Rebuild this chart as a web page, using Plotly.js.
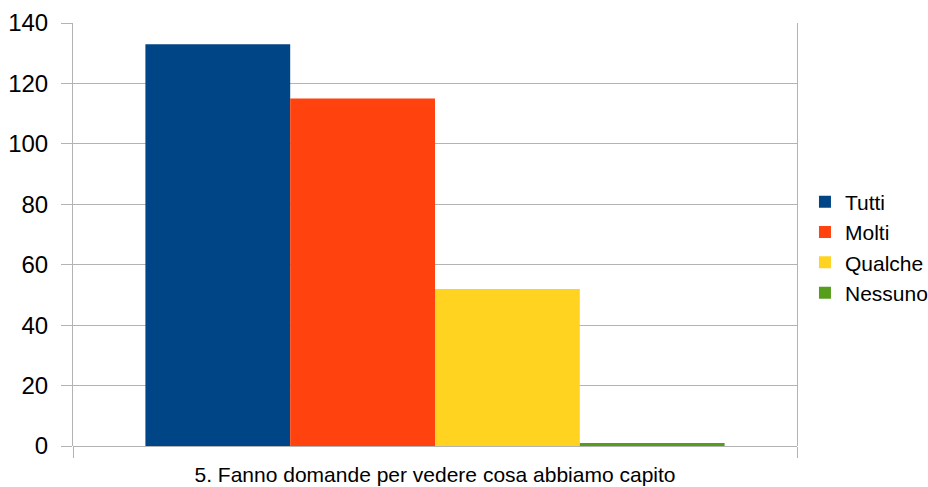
<!DOCTYPE html>
<html>
<head>
<meta charset="utf-8">
<script src="https://cdn.plot.ly/plotly-3.0.1.min.js"></script>
<style>html,body{margin:0;padding:0;background:#fff;}#chart{width:928px;height:487px;}</style>
</head>
<body>
<div id="chart"></div>
<script>
const categories = ["5. Fanno domande per vedere cosa abbiamo capito"];
const seriesNames = ["Tutti", "Molti", "Qualche", "Nessuno"];
const seriesValues = [[133], [115], [52], [1]];
const seriesColors = ["#004586", "#ff420e", "#ffd320", "#579d1c"];
const yTicks = [0, 20, 40, 60, 80, 100, 120, 140];

const traces = seriesNames.map((name, i) => ({
  type: "bar",
  name: name,
  legendgroup: name,
  x: categories,
  y: seriesValues[i],
  marker: { color: seriesColors[i], line: { width: 0 } },
  hoverinfo: "none"
}));

const layout = {
  width: 928,
  height: 487,
  margin: { l: 73, r: 131, t: 23, b: 41, autoexpand: false },
  paper_bgcolor: "#ffffff",
  plot_bgcolor: "#ffffff",
  font: { family: "Liberation Sans, Arial, sans-serif", color: "#000000" },
  barmode: "group",
  bargap: 0.2,
  bargroupgap: 0,
  showlegend: true,
  legend: {
    x: 1.0110, xanchor: "left",
    y: 0.469, yanchor: "middle",
    font: { size: 21, color: "#000000" },
    traceorder: "grouped",
    tracegroupgap: 0,
    itemclick: false
  },
  xaxis: {
    type: "category",
    showgrid: true,
    gridcolor: "#b3b3b3",
    tickson: "boundaries",
    ticks: "outside",
    ticklen: 11,
    tickcolor: "#b3b3b3",
    tickfont: { size: 21, color: "#000000" },
    ticklabelstandoff: 14,
    showline: false,
    zeroline: false,
    range: [-0.5, 0.5],
    fixedrange: true
  },
  yaxis: {
    range: [0, 140],
    tickvals: yTicks,
    ticktext: yTicks.map(String),
    showgrid: true,
    gridcolor: "#b3b3b3",
    zeroline: true,
    zerolinecolor: "#b3b3b3",
    zerolinewidth: 1,
    showline: true,
    mirror: true,
    linecolor: "#b3b3b3",
    ticks: "outside",
    ticklen: 11,
    tickcolor: "#b3b3b3",
    tickfont: { size: 24, color: "#000000" },
    ticklabelstandoff: 8,
    fixedrange: true
  }
};

Plotly.newPlot("chart", traces, layout, { displayModeBar: false, staticPlot: true });
</script>
</body>
</html>
